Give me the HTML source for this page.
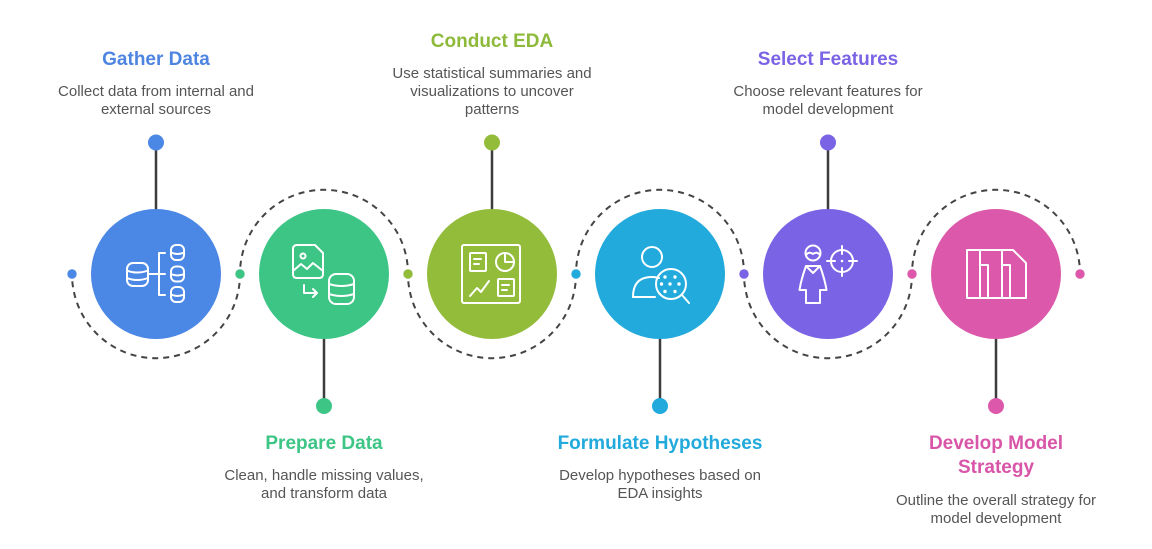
<!DOCTYPE html>
<html>
<head>
<meta charset="utf-8">
<style>
  html,body{margin:0;padding:0;background:#fff;}
  svg{display:block;}
  .t{font-family:"Liberation Sans",Arial,sans-serif;font-weight:bold;font-size:19px;text-anchor:middle;}
  .d{font-family:"Liberation Sans",Arial,sans-serif;font-size:15px;fill:#555;text-anchor:middle;}
  .ic{fill:none;stroke:#fff;stroke-width:2;stroke-linecap:round;stroke-linejoin:round;}
</style>
</head>
<body>
<svg width="1152" height="549" viewBox="0 0 1152 549" xmlns="http://www.w3.org/2000/svg">
  <rect width="1152" height="549" fill="#fff"/>

  <!-- dashed arcs -->
  <g fill="none" stroke="#444" stroke-width="2" stroke-dasharray="6 5">
    <path d="M72.3 281.3 A84 84 0 0 0 239.7 281.3"/>
    <path d="M240.3 266.7 A84 84 0 0 1 407.7 266.7"/>
    <path d="M408.3 281.3 A84 84 0 0 0 575.7 281.3"/>
    <path d="M576.3 266.7 A84 84 0 0 1 743.7 266.7"/>
    <path d="M744.3 281.3 A84 84 0 0 0 911.7 281.3"/>
    <path d="M912.3 266.7 A84 84 0 0 1 1079.7 266.7"/>
  </g>

  <!-- connector lines -->
  <g stroke="#3d3d3d" stroke-width="2.5">
    <line x1="156" y1="142" x2="156" y2="212"/>
    <line x1="492" y1="142" x2="492" y2="212"/>
    <line x1="828" y1="142" x2="828" y2="212"/>
    <line x1="324" y1="336" x2="324" y2="406"/>
    <line x1="660" y1="336" x2="660" y2="406"/>
    <line x1="996" y1="336" x2="996" y2="406"/>
  </g>

  <!-- big dots -->
  <circle cx="156" cy="142.5" r="8" fill="#4B87E5"/>
  <circle cx="492" cy="142.5" r="8" fill="#93BC3B"/>
  <circle cx="828" cy="142.5" r="8" fill="#7B63E5"/>
  <circle cx="324" cy="406" r="8" fill="#3DC585"/>
  <circle cx="660" cy="406" r="8" fill="#21AADB"/>
  <circle cx="996" cy="406" r="8" fill="#DC58AA"/>

  <!-- small dots -->
  <circle cx="72" cy="274" r="4.7" fill="#4B87E5"/>
  <circle cx="240" cy="274" r="4.7" fill="#3DC585"/>
  <circle cx="408" cy="274" r="4.7" fill="#93BC3B"/>
  <circle cx="576" cy="274" r="4.7" fill="#21AADB"/>
  <circle cx="744" cy="274" r="4.7" fill="#7B63E5"/>
  <circle cx="912" cy="274" r="4.7" fill="#DC58AA"/>
  <circle cx="1080" cy="274" r="4.7" fill="#DC58AA"/>

  <!-- main circles -->
  <circle cx="156" cy="274" r="65" fill="#4B87E5"/>
  <circle cx="324" cy="274" r="65" fill="#3DC585"/>
  <circle cx="492" cy="274" r="65" fill="#93BC3B"/>
  <circle cx="660" cy="274" r="65" fill="#21AADB"/>
  <circle cx="828" cy="274" r="65" fill="#7B63E5"/>
  <circle cx="996" cy="274" r="65" fill="#DC58AA"/>

  <!-- Icon 1: databases -->
  <g class="ic">
    <rect x="127" y="263" width="21" height="23" rx="6"/>
    <path d="M127 270.5 Q137.5 274.5 148 270.5"/>
    <path d="M127 278 Q137.5 282 148 278"/>
    <path d="M148 274 H159"/>
    <path d="M165 253 H159 V295 H165 M159 274 H165"/>
    <rect x="171" y="245" width="13" height="15" rx="5"/>
    <path d="M171 252.5 Q177.5 255.5 184 252.5"/>
    <rect x="171" y="266.5" width="13" height="15" rx="5"/>
    <path d="M171 274 Q177.5 277 184 274"/>
    <rect x="171" y="287" width="13" height="15" rx="5"/>
    <path d="M171 294.5 Q177.5 297.5 184 294.5"/>
  </g>

  <!-- Icon 2: image doc -> db -->
  <g class="ic">
    <path d="M293 249 Q293 245 297 245 H315 L323 253 V274 Q323 278 319 278 H297 Q293 278 293 274 Z"/>
    <circle cx="303" cy="256" r="2.5"/>
    <path d="M293 271 L301 264 L307 269 L313 263 L323 271"/>
    <path d="M304 285 V293 H317 M313 289 L317 293 L313 297"/>
    <rect x="329" y="274" width="25" height="30" rx="7"/>
    <path d="M329 284 Q341.5 288 354 284"/>
    <path d="M329 294 Q341.5 298 354 294"/>
  </g>

  <!-- Icon 3: dashboard -->
  <g class="ic">
    <rect x="462" y="245" width="58" height="58" rx="2"/>
    <rect x="470" y="253" width="16" height="18" rx="1"/>
    <path d="M474 259 H481 M474 264 H479"/>
    <circle cx="505" cy="262" r="9"/>
    <path d="M505 253 V262 H514"/>
    <path d="M470 296 L477 288 L481 292 L489 281"/>
    <rect x="498" y="279" width="16" height="17" rx="1"/>
    <path d="M502 285 H509 M502 290 H507"/>
  </g>

  <!-- Icon 4: person + magnifier -->
  <g class="ic">
    <circle cx="652" cy="257" r="10"/>
    <path d="M633 297 Q633 277 652 277 Q656 277 659 278"/>
    <path d="M633 297 H655"/>
    <circle cx="671" cy="284" r="15"/>
    <path d="M682 295 L689 303"/>
  </g>
  <g fill="#fff">
    <circle cx="665" cy="277" r="1.7"/>
    <circle cx="675" cy="277" r="1.7"/>
    <circle cx="661.5" cy="284" r="1.7"/>
    <circle cx="670" cy="284" r="1.7"/>
    <circle cx="679" cy="284" r="1.7"/>
    <circle cx="665" cy="291.5" r="1.7"/>
    <circle cx="675" cy="291.5" r="1.7"/>
  </g>

  <!-- Icon 5: person + target -->
  <g class="ic">
    <circle cx="813" cy="253" r="7.5"/>
    <path d="M806 255 Q809 251 813 254 Q817 251 820 255"/>
    <path d="M806 266 Q801 280 799.5 290 H806 V303 H820 V290 H826.5 Q825 280 820 266 Z"/>
    <path d="M806 266 L813 273 L820 266"/>
    <circle cx="842" cy="261" r="11"/>
    <path d="M842 246 V254 M842 268 V276 M827 261 H835 M849 261 H857"/>
  </g>
  <circle cx="842" cy="261" r="1.3" fill="#fff"/>

  <!-- Icon 6: panels -->
  <g class="ic">
    <path d="M967 250 H1013 L1026 263 V298 H967 Z"/>
    <path d="M980 250 V298"/>
    <path d="M980 265 H988 M988 265 V298"/>
    <path d="M1002 250 V298"/>
    <path d="M1002 265 H1010 M1010 265 V298"/>
  </g>

  <!-- Texts top -->
  <text class="t" x="156" y="65" fill="#4E85E0">Gather Data</text>
  <text class="d" x="156" y="96">Collect data from internal and</text>
  <text class="d" x="156" y="114">external sources</text>

  <text class="t" x="492" y="47" fill="#8DBA3B">Conduct EDA</text>
  <text class="d" x="492" y="78">Use statistical summaries and</text>
  <text class="d" x="492" y="96">visualizations to uncover</text>
  <text class="d" x="492" y="114">patterns</text>

  <text class="t" x="828" y="65" fill="#7B63E5">Select Features</text>
  <text class="d" x="828" y="96">Choose relevant features for</text>
  <text class="d" x="828" y="114">model development</text>

  <!-- Texts bottom -->
  <text class="t" x="324" y="449" fill="#3DC585">Prepare Data</text>
  <text class="d" x="324" y="480">Clean, handle missing values,</text>
  <text class="d" x="324" y="498">and transform data</text>

  <text class="t" x="660" y="449" fill="#21AADB">Formulate Hypotheses</text>
  <text class="d" x="660" y="480">Develop hypotheses based on</text>
  <text class="d" x="660" y="498">EDA insights</text>

  <text class="t" x="996" y="449" fill="#D855A8">Develop Model</text>
  <text class="t" x="996" y="473" fill="#D855A8">Strategy</text>
  <text class="d" x="996" y="505">Outline the overall strategy for</text>
  <text class="d" x="996" y="523">model development</text>
</svg>
</body>
</html>
